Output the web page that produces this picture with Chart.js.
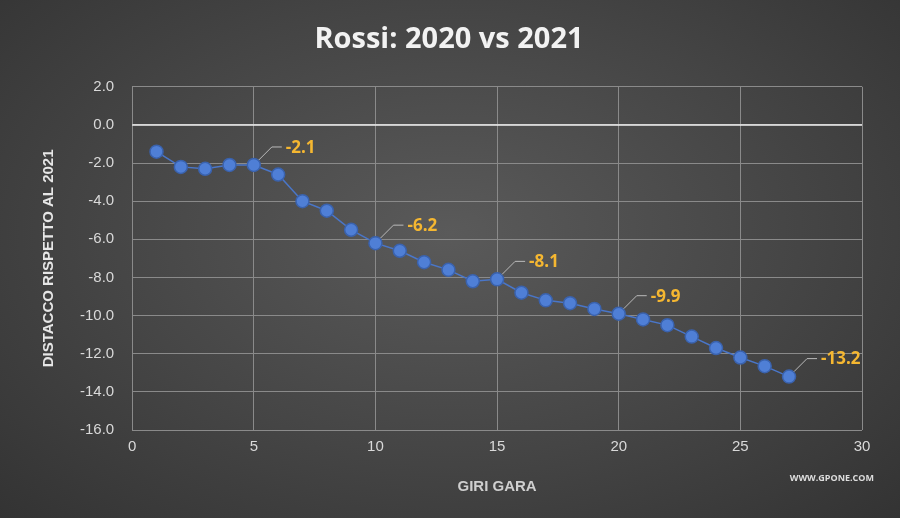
<!DOCTYPE html>
<html>
<head>
<meta charset="utf-8">
<title>Rossi: 2020 vs 2021</title>
<script src="https://cdn.jsdelivr.net/npm/chart.js@4/dist/chart.umd.min.js"></script>
<style>
  html, body { margin: 0; padding: 0; }
  body {
    width: 900px; height: 518px; overflow: hidden;
    background: radial-gradient(ellipse at 50% 45%, #5a5a5a 0%, #454545 55%, #333 100%);
    font-family: "Open Sans", "DejaVu Sans", sans-serif;
  }
  #wrap { position: absolute; left: 0; top: 0; width: 900px; height: 518px; }
  .site { position: absolute; right: 26px; bottom: 34px; color: #ddd; font-size: 9px; font-weight: bold; }
</style>
</head>
<body>
<div id="wrap"><canvas id="chart" width="900" height="518"></canvas></div>
<div class="site">WWW.GPONE.COM</div>
<script>
  var laps = [1,2,3,4,5,6,7,8,9,10,11,12,13,14,15,16,17,18,19,20,21,22,23,24,25,26,27];
  var gap = [-1.4,-2.2,-2.3,-2.1,-2.1,-2.6,-4.0,-4.5,-5.5,-6.2,-6.6,-7.2,-7.6,-8.2,-8.1,-8.8,-9.2,-9.35,-9.65,-9.9,-10.2,-10.5,-11.1,-11.7,-12.2,-12.65,-13.2];
  var labelled = [5,10,15,20,27];
  var labelText = ["-2.1","-6.2","-8.1","-9.9","-13.2"];

  var callouts = {
    id: 'callouts',
    beforeDatasetsDraw: function(chart) {
      var ctx = chart.ctx, xs = chart.scales.x, ys = chart.scales.y;
      ctx.save();
      ctx.strokeStyle = '#f0f0f0'; ctx.lineWidth = 1.5;
      ctx.beginPath(); ctx.moveTo(xs.left, ys.getPixelForValue(0)); ctx.lineTo(xs.right, ys.getPixelForValue(0)); ctx.stroke();
      ctx.restore();
    },
    afterDatasetsDraw: function(chart) {
      var ctx = chart.ctx, xs = chart.scales.x, ys = chart.scales.y;
      ctx.save();
      labelled.forEach(function(lap, i) {
        var v = gap[laps.indexOf(lap)];
        var px = xs.getPixelForValue(lap), py = ys.getPixelForValue(v);
        ctx.strokeStyle = '#bbb'; ctx.lineWidth = 1;
        ctx.beginPath(); ctx.moveTo(px + 5, py - 5); ctx.lineTo(px + 18, py - 18); ctx.lineTo(px + 28, py - 18); ctx.stroke();
        ctx.fillStyle = '#f5b731';
        ctx.font = 'bold 17px "Open Sans", sans-serif';
        ctx.textBaseline = 'middle';
        ctx.fillText(labelText[i], px + 32, py - 17);
      });
      ctx.restore();
    }
  };

  new Chart(document.getElementById('chart'), {
    type: 'line',
    data: {
      datasets: [{
        data: laps.map(function(l, i) { return { x: l, y: gap[i] }; }),
        borderColor: '#4a76c8', borderWidth: 1.5,
        backgroundColor: '#4f7fd6', pointBorderColor: '#3a62ad',
        pointRadius: 6.5, pointHoverRadius: 6.5, tension: 0
      }]
    },
    options: {
      responsive: false, animation: false,
      layout: { padding: { left: 36, right: 38, top: 10, bottom: 18 } },
      plugins: {
        legend: { display: false }, tooltip: { enabled: false },
        title: { display: true, text: 'Rossi: 2020 vs 2021', color: '#f2f2f2',
          font: { size: 29, weight: 'bold', family: '"Open Sans", sans-serif' }, padding: { top: 12, bottom: 30 } }
      },
      scales: {
        x: {
          type: 'linear', min: 0, max: 30,
          ticks: { stepSize: 5, color: '#d9d9d9', font: { size: 15 }, padding: 8 },
          grid: { color: '#8a8a8a', drawTicks: false }, border: { display: false },
          title: { display: true, text: 'GIRI GARA', color: '#cfcfcf', font: { size: 15, weight: 'bold' }, padding: { top: 14 } }
        },
        y: {
          min: -16, max: 2,
          ticks: { stepSize: 2, color: '#d9d9d9', font: { size: 15 }, padding: 18,
            callback: function(v) { return v.toFixed(1); } },
          grid: { color: '#8a8a8a', drawTicks: false }, border: { display: false },
          title: { display: true, text: 'DISTACCO RISPETTO AL 2021', color: '#e6e6e6', font: { size: 15, weight: 'bold' } }
        }
      }
    },
    plugins: [callouts]
  });
</script>
</body>
</html>
